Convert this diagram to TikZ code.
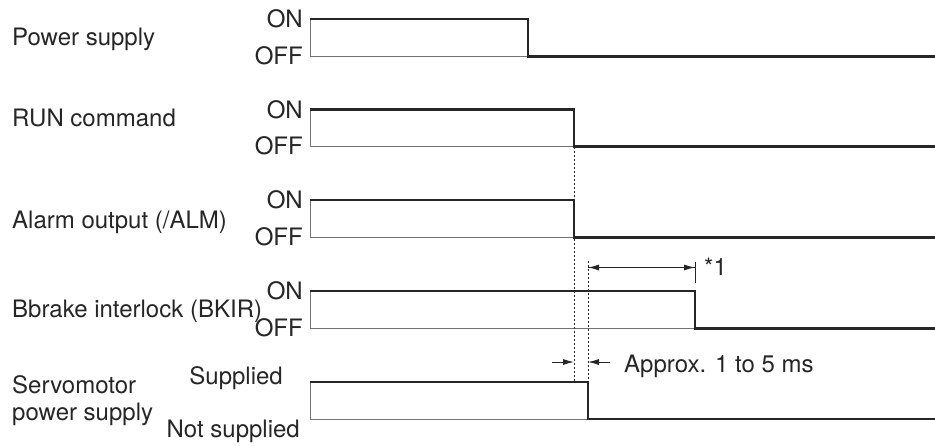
\documentclass[tikz,border=0pt]{standalone}
\usepackage{fontspec}
\setmainfont{TeX Gyre Heros}
\usetikzlibrary{arrows.meta,calc}
\tikzset{
  sig/.style={anchor=base west,inner sep=0pt,font=\fontsize{24}{28}\selectfont,text=black!85},
  lvl/.style={anchor=base east,inner sep=0pt,font=\fontsize{24}{28}\selectfont,text=black!85},
  hi/.style={line width=2.2pt,black!85},
  lo/.style={line width=0.9pt,black!55},
  gd/.style={line width=0.9pt,black!85,dash pattern=on 2pt off 2pt},
  dm/.style={line width=0.9pt,black!85,-{Latex[length=11pt,width=6pt]}},
}
\begin{document}
\begin{tikzpicture}[x=1pt,y=-1pt]
  \useasboundingbox (0,0) rectangle (935,445);
  % signal names
  \node[sig] (ps) at (12,45) {Power supply};
  \node[sig] (run) at (12,126) {RUN command};
  \node[sig] (alm) at (12,228) {Alarm output (/ALM)};
  \node[sig] (bk) at (12,317) {Bbrake interlock (BKIR)};
  \node[sig] (sm1) at (12,393) {Servomotor};
  \node[sig] (sm2) at (12,420) {power supply};
  % levels
  \node[lvl] (psOn) at (303,27) {ON};   \node[lvl] (psOff) at (303,64) {OFF};
  \node[lvl] (runOn) at (303,118) {ON}; \node[lvl] (runOff) at (303,154) {OFF};
  \node[lvl] (almOn) at (303,208) {ON}; \node[lvl] (almOff) at (303,245) {OFF};
  \node[lvl] (bkOn) at (303,299) {ON};  \node[lvl] (bkOff) at (303,336) {OFF};
  \node[lvl] (smOn) at (283,384) {Supplied};
  \node[lvl] (smOff) at (300,437) {Not supplied};
  % waveforms
  \draw[lo] (528,56.5) -- (310,56.5) -- (310,19);
  \draw[hi] (310,19) -- (528,19) -- (528,56.5) -- (935,56.5);
  \draw[lo] (574,146.5) -- (310,146.5) -- (310,109.5);
  \draw[hi] (310,109.5) -- (574,109.5) -- (574,146.5) -- (935,146.5);
  \draw[lo] (574,237.5) -- (310,237.5) -- (310,200);
  \draw[hi] (310,200) -- (574,200) -- (574,237.5) -- (935,237.5);
  \draw[lo] (695,328.5) -- (310,328.5) -- (310,291);
  \draw[hi] (310,291) -- (695,291) -- (695,328.5) -- (935,328.5);
  \draw[lo] (588,419) -- (310,419) -- (310,382);
  \draw[hi] (310,382) -- (588,382) -- (588,419) -- (935,419);
  % timing marks
  \coordinate (t1) at (574,146.5);
  \coordinate (t2) at (588,261);
  \coordinate (t3) at (695,262);
  \draw[gd] (t1) -- (t1 |- 0,382);
  \draw[gd] (t2) -- (t2 |- 0,382);
  \draw[line width=0.9pt,black!85] (t3) -- ++(0,21);
  \draw[dm] (t3 |- 0,267.5) -- (t2 |- 0,267.5);
  \draw[dm] (t2 |- 0,267.5) -- (t3 |- 0,267.5);
  \node[sig] (n1) at (704,275) {*1};
  \coordinate (a1) at (552,362);
  \coordinate (a2) at (610,362);
  \draw[dm] (a1) -- (t1 |- a1);
  \draw[dm] (a2) -- (t2 |- a2);
  \node[sig] (ap) at (624,372) {Approx. 1 to 5 ms};
\end{tikzpicture}
\end{document}
